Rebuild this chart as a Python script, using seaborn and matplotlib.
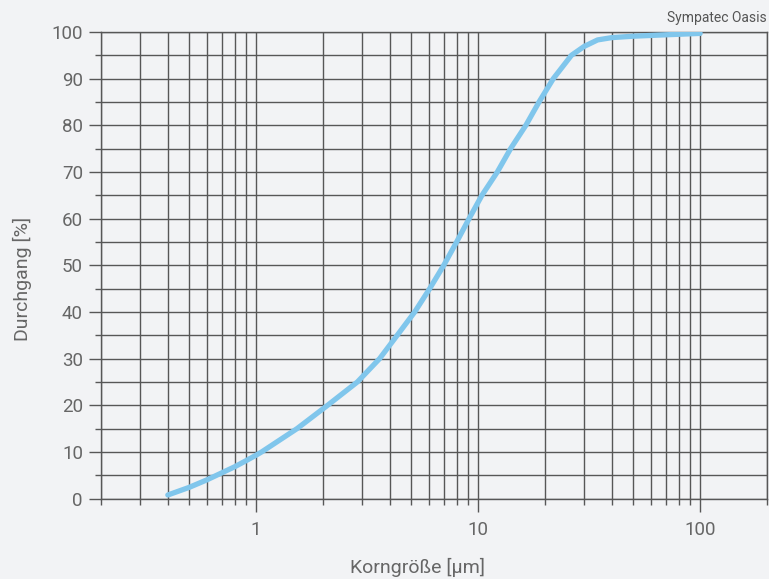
import numpy as np
import pandas as pd
import matplotlib
matplotlib.use("Agg")
import matplotlib.pyplot as plt
import matplotlib.ticker as mticker
import seaborn as sns

# particle size [um] and cumulative passing [%]
size_um = [0.4, 0.5, 0.6, 0.7, 0.8, 0.9, 1.0, 1.06, 1.53, 2.1, 2.86, 3.6,
           4.32, 5.18, 6.05, 7.0, 8.0, 9.1, 10.4, 12.2, 14.0, 16.4, 18.8,
           21.8, 26.3, 30.0, 34.5, 40.0, 50.0, 70.0, 100.0]
passing = [0.75, 2.4, 4.0, 5.5, 6.8, 8.1, 9.3, 10.0, 15.0, 20.0, 25.0, 30.0,
           35.0, 40.0, 45.0, 50.0, 55.0, 60.0, 65.0, 70.0, 75.0, 80.0, 85.0,
           90.0, 95.0, 96.9, 98.3, 98.8, 99.1, 99.4, 99.7]
x_ticks = [1, 10, 100]
y_ticks = [0, 10, 20, 30, 40, 50, 60, 70, 80, 90, 100]

bg = "#f2f3f5"
grid_c = "#575757"
text_c = "#666666"

sns.set_theme(style="white", rc={"figure.facecolor": bg, "axes.facecolor": bg})
plt.rcParams["font.family"] = ["Roboto", "DejaVu Sans"]

df = pd.DataFrame({"size": size_um, "passing": passing})

fig = plt.figure(figsize=(7.69, 5.79), dpi=100)
ax = fig.add_axes([101 / 769, 80.5 / 579, 666 / 769, 466.5 / 579])

sns.lineplot(data=df, x="size", y="passing", ax=ax, color="#80c6ec",
             linewidth=3.8, solid_capstyle="round", solid_joinstyle="round",
             zorder=5)

ax.set_xscale("log")
ax.set_xlim(0.2, 200)
ax.set_ylim(0, 100)

ax.xaxis.set_major_locator(mticker.FixedLocator(x_ticks))
ax.xaxis.set_major_formatter(mticker.FixedFormatter([str(v) for v in x_ticks]))
ax.xaxis.set_minor_locator(mticker.LogLocator(base=10, subs=np.arange(2, 10)))
ax.xaxis.set_minor_formatter(mticker.NullFormatter())
ax.yaxis.set_major_locator(mticker.FixedLocator(y_ticks))
ax.yaxis.set_minor_locator(mticker.MultipleLocator(5))

ax.grid(True, which="both", color=grid_c, linewidth=1.0)
ax.tick_params(which="major", direction="out", length=9, width=1, color=grid_c,
               labelcolor=text_c, labelsize=13.5, pad=4)
ax.tick_params(which="minor", direction="out", length=4.5, width=1, color=grid_c)
ax.tick_params(axis="x", which="major", pad=7)
ax.tick_params(axis="x", which="both", bottom=True)
ax.tick_params(axis="y", which="both", left=True)

for s in ax.spines.values():
    s.set_color(grid_c)
    s.set_linewidth(1.0)

ax.set_xlabel("")
ax.set_ylabel("")
fig.text(417 / 769, 1 - 567 / 579, "Korngröße [µm]", ha="center", va="center",
         fontsize=14, color=text_c)
fig.text(22 / 769, 1 - 279 / 579, "Durchgang [%]", ha="center", va="center",
         rotation=90, fontsize=14, color=text_c)
fig.text(767 / 769, 1 - 18 / 579, "Sympatec Oasis", ha="right", va="center",
         fontsize=10, color="#555555")

fig.savefig("out.png", dpi=100, facecolor=bg)
